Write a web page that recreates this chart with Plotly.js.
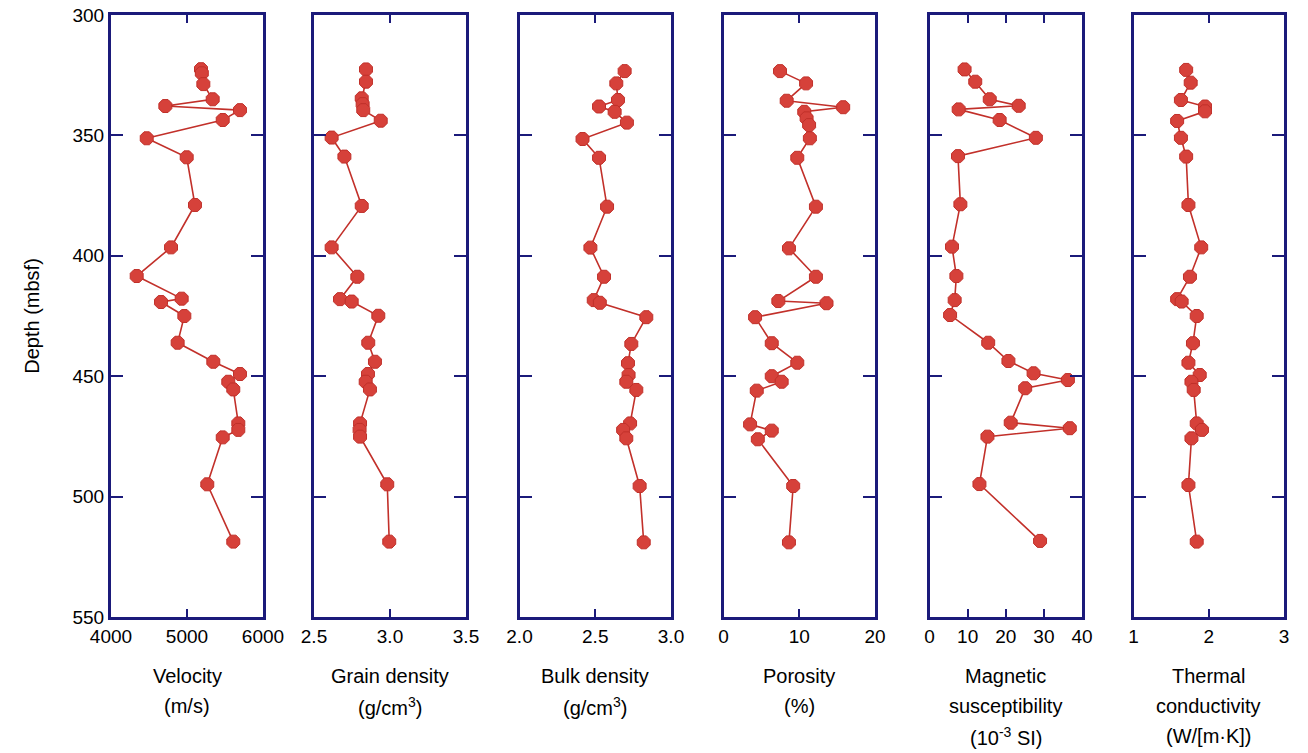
<!DOCTYPE html>
<html>
<head>
<meta charset="utf-8">
<script src="https://cdn.plot.ly/plotly-3.0.1.min.js"></script>
<style>html,body{margin:0;padding:0;background:#fff}#chart{width:1308px;height:753px}</style>
</head>
<body>
<div id="chart"></div>
<script>
// ---- Data (depth in mbsf) ----
const velDepth = [322.5, 324.2, 328.7, 335, 337.8, 339.5, 343.6, 351.2, 359.1, 378.9, 396.5, 408.4, 417.8, 419.2, 425, 436.1, 444, 449.1, 452.3, 455.5, 469.6, 472.3, 475.4, 494.9, 518.7];
const velocity = [5184, 5195, 5215, 5338, 4715, 5697, 5470, 4470, 4996, 5105, 4790, 4338, 4930, 4658, 4965, 4877, 5346, 5697, 5543, 5609, 5675, 5675, 5470, 5267, 5609];

const gdDepth = [322.6, 327.7, 334.6, 337, 339.5, 343.9, 350.9, 358.8, 379.3, 396.5, 408.7, 418, 419, 424.9, 436.1, 444, 449.1, 452.3, 455.5, 469.6, 472.3, 475.1, 494.9, 518.7];
const grainDensity = [2.842, 2.842, 2.814, 2.82, 2.824, 2.939, 2.616, 2.70, 2.814, 2.616, 2.785, 2.671, 2.748, 2.923, 2.857, 2.901, 2.855, 2.84, 2.868, 2.803, 2.80, 2.803, 2.982, 2.995];

const bdDepth = [323.3, 328.4, 335.3, 338, 340.2, 344.7, 351.5, 359.3, 379.6, 396.6, 408.7, 418.4, 419.5, 425.5, 436.6, 444.6, 449.5, 452.3, 455.7, 469.6, 472.3, 475.8, 495.6, 519];
const bulkDensity = [2.694, 2.639, 2.65, 2.525, 2.628, 2.709, 2.416, 2.525, 2.578, 2.468, 2.558, 2.49, 2.53, 2.837, 2.738, 2.716, 2.72, 2.705, 2.771, 2.73, 2.684, 2.705, 2.793, 2.82];

const porDepth = [323.3, 328.4, 335.6, 338.3, 340.2, 342.9, 345.7, 351.2, 359.3, 379.6, 396.9, 408.7, 418.8, 419.7, 425.5, 436.3, 444.4, 450, 452.3, 456, 470, 472.6, 476.2, 495.6, 519];
const porosity = [7.46, 10.9, 8.34, 15.8, 10.66, 10.97, 11.3, 11.4, 9.74, 12.2, 8.64, 12.2, 7.24, 13.6, 4.17, 6.37, 9.74, 6.37, 7.68, 4.39, 3.51, 6.37, 4.53, 9.2, 8.64];

const msDepth = [322.6, 327.7, 335, 337.7, 339.2, 343.6, 351, 358.6, 378.6, 396.2, 408.4, 418.4, 424.6, 436.1, 443.7, 448.8, 451.6, 455, 469.3, 471.6, 475.1, 494.8, 518.4];
const magSus = [9.2, 12.0, 15.8, 23.4, 7.65, 18.4, 27.9, 7.47, 8.1, 5.9, 7.05, 6.6, 5.4, 15.4, 20.7, 27.3, 36.3, 25.1, 21.3, 36.8, 15.2, 13.1, 29.0];

const tcDepth = [322.8, 328.1, 335.3, 338, 340, 344, 351, 358.8, 378.9, 396.5, 408.7, 418, 419, 425, 436.3, 444.4, 449.5, 452.3, 455.7, 469.6, 472.3, 475.8, 495.2, 518.7];
const thermal = [1.70, 1.76, 1.63, 1.95, 1.95, 1.58, 1.63, 1.70, 1.73, 1.90, 1.75, 1.58, 1.64, 1.84, 1.79, 1.73, 1.88, 1.77, 1.80, 1.84, 1.91, 1.77, 1.73, 1.84];

const depthTicks = [300, 350, 400, 450, 500, 550];

const panelTitles = [
  ["Velocity", "(m/s)"],
  ["Grain density", "(g/cm<sup>3</sup>)"],
  ["Bulk density", "(g/cm<sup>3</sup>)"],
  ["Porosity", "(%)"],
  ["Magnetic", "susceptibility", "(10<sup>-3</sup> SI)"],
  ["Thermal", "conductivity", "(W/[m·K])"]
];
const xRanges = [[4000, 6000], [2.5, 3.5], [2.0, 3.0], [0, 20], [0, 40], [1, 3]];
const xTickVals = [[4000, 5000, 6000], [2.5, 3.0, 3.5], [2.0, 2.5, 3.0], [0, 10, 20], [0, 10, 20, 30, 40], [1, 2, 3]];
const xTickText = [["4000", "5000", "6000"], ["2.5", "3.0", "3.5"], ["2.0", "2.5", "3.0"], ["0", "10", "20"], ["0", "10", "20", "30", "40"], ["1", "2", "3"]];

const series = [[velocity, velDepth], [grainDensity, gdDepth], [bulkDensity, bdDepth], [porosity, porDepth], [magSus, msDepth], [thermal, tcDepth]];

// ---- Layout geometry (pixels) ----
const W = 1308, H = 753;
const panelPx = [[111, 263], [314, 466], [519.5, 671], [723.5, 875], [929.5, 1082], [1133.5, 1284]];
const yDom = [1 - 617 / H, 1 - 15 / H];
const titleLineY = [676, 706, 736];
const navy = "#1b1a7a";
const fontFam = "Liberation Sans, Arial, sans-serif";

const traces = [];
const layout = {
  width: W, height: H,
  margin: {l: 0, r: 0, t: 0, b: 0},
  paper_bgcolor: "#fff", plot_bgcolor: "#fff",
  showlegend: false,
  font: {family: fontFam, color: "#000", size: 19},
  annotations: []
};

series.forEach((s, i) => {
  const n = i + 1;
  const xa = "x" + (n === 1 ? "" : n), ya = "y" + (n === 1 ? "" : n);
  traces.push({
    x: s[0], y: s[1], xaxis: xa, yaxis: ya,
    type: "scatter", mode: "lines+markers",
    line: {color: "#c2302a", width: 1.6},
    marker: {symbol: "octagon", size: 14, color: "#d6413a", line: {color: "#c0302a", width: 1}},
    hoverinfo: "x+y"
  });
  const xk = "xaxis" + (n === 1 ? "" : n), yk = "yaxis" + (n === 1 ? "" : n);
  layout[xk] = {
    domain: [panelPx[i][0] / W, panelPx[i][1] / W],
    range: xRanges[i], anchor: ya,
    tickmode: "array", tickvals: xTickVals[i], ticktext: xTickText[i],
    ticks: "inside", ticklen: 8, tickwidth: 2, tickcolor: navy,
    showline: true, linecolor: navy, linewidth: 3, mirror: "ticks",
    showgrid: false, zeroline: false, automargin: false,
    tickfont: {size: 19, family: fontFam, color: "#000"}
  };
  layout[yk] = {
    domain: yDom, range: [550, 300], anchor: xa,
    tickmode: "array", tickvals: depthTicks,
    ticks: "inside", ticklen: 12, tickwidth: 2, tickcolor: navy,
    showline: true, linecolor: navy, linewidth: 3, mirror: "ticks",
    showgrid: false, zeroline: false, automargin: false,
    showticklabels: n === 1,
    tickfont: {size: 19, family: fontFam, color: "#000"}
  };
  panelTitles[i].forEach((t, k) => {
    layout.annotations.push({
      xref: "paper", yref: "paper",
      x: (panelPx[i][0] + panelPx[i][1]) / 2 / W, y: 1 - titleLineY[k] / H,
      xanchor: "center", yanchor: "middle", showarrow: false,
      text: t, font: {size: 20, family: fontFam, color: "#000"}
    });
  });
});

layout.yaxis.title = {text: "Depth (mbsf)", font: {size: 20, family: fontFam, color: "#000"}, standoff: 28};

Plotly.newPlot("chart", traces, layout, {displayModeBar: false, staticPlot: true});
</script>
</body>
</html>
